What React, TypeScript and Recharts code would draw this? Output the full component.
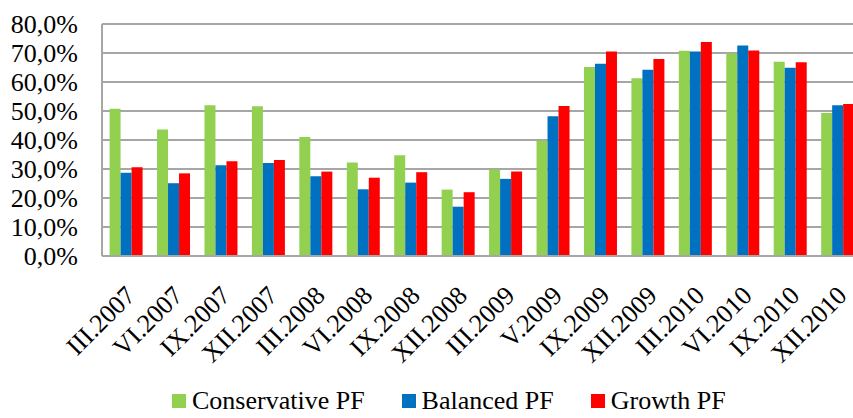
import React from 'react';
import { BarChart, Bar, XAxis, YAxis, CartesianGrid, Legend } from 'recharts';

const periods = [
  'III.2007', 'VI.2007', 'IX.2007', 'XII.2007',
  'III.2008', 'VI.2008', 'IX.2008', 'XII.2008',
  'III.2009', 'V.2009', 'IX.2009', 'XII.2009',
  'III.2010', 'VI.2010', 'IX.2010', 'XII.2010',
];
const conservative = [50.8, 43.6, 52.0, 51.6, 41.0, 32.2, 34.7, 22.9, 29.8, 39.7, 65.2, 61.3, 70.8, 69.8, 67.0, 49.3];
const balanced = [28.7, 25.1, 31.3, 32.1, 27.5, 23.0, 25.3, 17.0, 26.6, 48.2, 66.3, 64.2, 70.5, 72.6, 64.9, 52.0];
const growth = [30.6, 28.5, 32.7, 33.1, 29.1, 27.0, 28.9, 22.0, 29.1, 51.7, 70.5, 67.9, 73.8, 70.9, 66.8, 52.4];
const yTicks = [0, 10, 20, 30, 40, 50, 60, 70, 80];

const data = periods.map((p, i) => ({
  period: p,
  conservative: conservative[i],
  balanced: balanced[i],
  growth: growth[i],
}));

const FONT = 'Liberation Serif, Times New Roman, serif';

const series = [
  { key: 'conservative', name: 'Conservative PF', color: '#92d050' },
  { key: 'balanced', name: 'Balanced PF', color: '#0070c0' },
  { key: 'growth', name: 'Growth PF', color: '#ff0000' },
];

const fmt = (v: number) => `${v.toFixed(1).replace('.', ',')}%`;

// rotated category labels, anchored at the end of the text
const XTick = (props: any) => {
  const { x, y, payload } = props;
  const ax = x + 11;
  const ay = y + 41;
  return (
    <text
      x={ax}
      y={ay}
      transform={`rotate(-45, ${ax}, ${ay})`}
      textAnchor="end"
      fontFamily={FONT}
      fontSize={26}
      fill="#000"
    >
      {payload.value}
    </text>
  );
};

const YTick = (props: any) => {
  const { x, y, payload } = props;
  return (
    <text x={x} y={y} dy={9} textAnchor="end" fontFamily={FONT} fontSize={26} fill="#000">
      {fmt(payload.value)}
    </text>
  );
};

const LegendContent = () => (
  <div
    style={{
      display: 'flex',
      alignItems: 'center',
      fontFamily: FONT,
      fontSize: 26,
      lineHeight: '22px',
      height: 22,
      paddingLeft: 172,
      position: 'relative',
      top: -6,
      color: '#000',
    }}
  >
    {series.map((s) => (
      <div key={s.key} style={{ display: 'flex', alignItems: 'center', marginRight: 37 }}>
        <span style={{ width: 14, height: 14, background: s.color, marginRight: 6, display: 'inline-block' }} />
        <span>{s.name}</span>
      </div>
    ))}
  </div>
);

export default function App() {
  return (
    <div
      style={{
        position: 'absolute',
        left: 0,
        top: 0,
        width: 853,
        height: 418,
        overflow: 'hidden',
        background: '#fff',
        fontFamily: FONT,
      }}
    >
      <BarChart
        width={870}
        height={418}
        data={data}
        margin={{ top: 24, right: 9, left: 0, bottom: 0 }}
        barCategoryGap="16%"
        barGap={0}
      >
        <CartesianGrid vertical={false} stroke="#a6a6a6" strokeWidth={2} />
        <XAxis
          dataKey="period"
          interval={0}
          height={140}
          tick={<XTick />}
          tickLine={false}
          tickSize={0}
          tickMargin={0}
          axisLine={{ stroke: '#a6a6a6', strokeWidth: 2 }}
        />
        <YAxis
          domain={[0, 80]}
          ticks={yTicks}
          interval={0}
          width={102}
          tickSize={0}
          tickMargin={24}
          tickLine={false}
          axisLine={{ stroke: '#a6a6a6', strokeWidth: 2 }}
          tick={<YTick />}
        />
        <Legend verticalAlign="bottom" content={<LegendContent />} />
        {series.map((s) => (
          <Bar key={s.key} dataKey={s.key} name={s.name} fill={s.color} isAnimationActive={false} />
        ))}
      </BarChart>
    </div>
  );
}
